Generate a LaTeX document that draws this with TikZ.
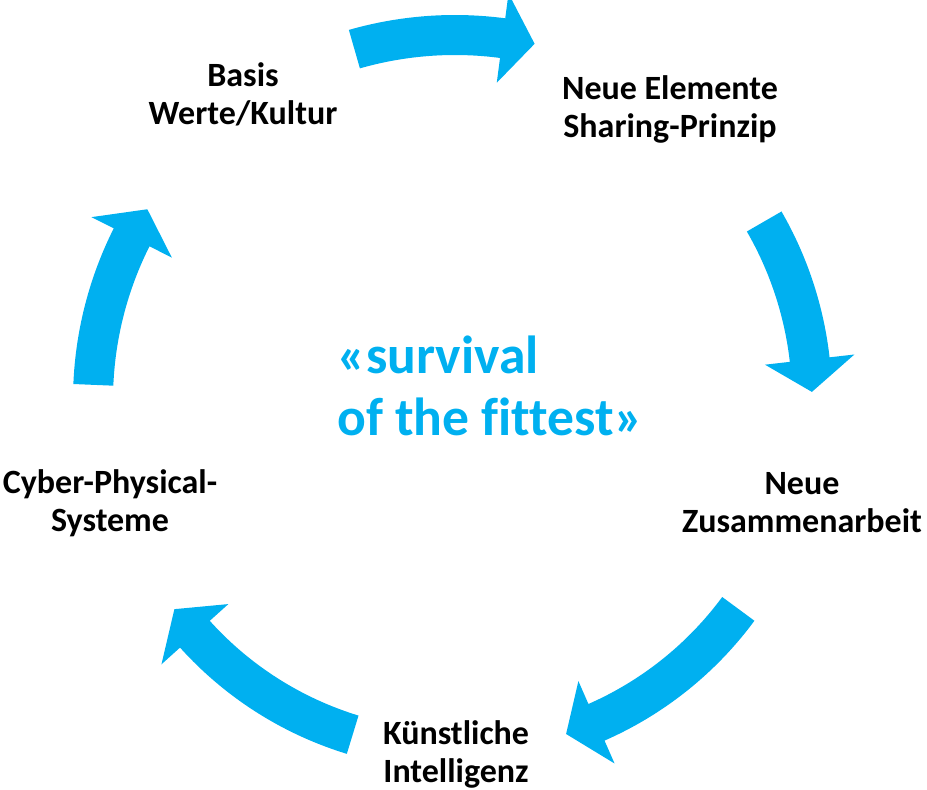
\documentclass[tikz,border=0pt]{standalone}
\usepackage{fontspec}
\setmainfont{Carlito}[Ligatures=NoCommon]
\usetikzlibrary{positioning}
\definecolor{cycleblue}{HTML}{00B0F0}
\tikzset{%
	stage/.style={align=center, inner sep=0pt, font=\fontsize{17}{19}\selectfont\bfseries},
	motto/.style={align=left, inner sep=0pt, text=cycleblue, font=\fontsize{26.8}{31}\selectfont\bfseries},
	blockarrow/.style={fill=cycleblue, draw=none}
}
\newcommand\cyclearrow[4]{% radius, start angle, head base angle, tip angle
	(#2:#1+20) arc[start angle=#2, end angle=#3, radius=#1+20]
	-- (#3:#1+45) -- (#4:#1) -- (#3:#1-45) -- (#3:#1-20)
	arc[start angle=#3, end angle=#2, radius=#1-20] -- cycle
}

\begin{document}
\begin{tikzpicture}[x=0.5pt, y=0.5pt]
  \useasboundingbox (0,0) rectangle (927,789);
  \coordinate (hub) at (455,389);

  \begin{scope}[shift={(hub)}]
    \fill[blockarrow] \cyclearrow{365}{106}{82.5}{77.4};
    \fill[blockarrow] \cyclearrow{357}{30}{6.5}{1.3};
    \fill[blockarrow] \cyclearrow{352}{-36.4}{-66.3}{-71.6};
    \fill[blockarrow] \cyclearrow{350}{253}{222}{216.7};
    \fill[blockarrow] \cyclearrow{362}{177.6}{153.3}{148.2};
  \end{scope}

  \node[stage] (basis) at (243,695) {Basis\\Werte/Kultur};
  \node[stage] (elemente) at (670,680) {Neue Elemente\\Sharing-Prinzip};
  \node[stage] (zusammen) at (802,286) {Neue\\Zusammenarbeit};
  \node[stage] (ki) at (456,35) {Künstliche\\Intelligenz};
  \node[stage] (cps) at (110,286) {Cyber-Physical-\\Systeme};
  \node[motto, anchor=west] (survival) at (337,403) {«survival\\of the fittest»};
\end{tikzpicture}
\end{document}
